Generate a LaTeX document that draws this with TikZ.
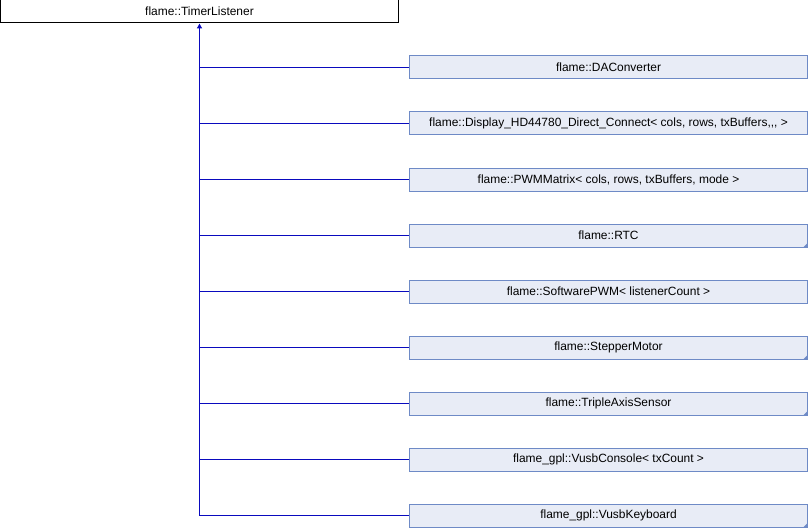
\documentclass[tikz,border=0pt]{standalone}
\usepackage{fontspec}
\setmainfont{Liberation Sans}
\usetikzlibrary{positioning,arrows.meta}

\definecolor{boxfill}{RGB}{232,236,246}
\definecolor{boxline}{RGB}{110,138,198}
\definecolor{linkblue}{RGB}{10,10,190}

\begin{document}
\begin{tikzpicture}%
  [x=1bp, y=1bp,
   node distance=56bp,
   on grid,
   font=\fontsize{12}{14}\selectfont,
   base/.style={draw=black, fill=white, line width=1bp,
                minimum width=398bp, minimum height=23bp, inner sep=0pt},
   derived/.style={base, draw=boxline, fill=boxfill},
   link/.style={draw=linkblue, line width=1.3bp},
   inherit/.style={link, {Triangle[length=5bp,width=5bp]}-}
  ]
\useasboundingbox (0,0) rectangle (808,-528);

\node[base] (listener) at (199.5,-11.5) {flame::TimerListener};

\node[derived] (daconv)  [below right=56bp and 409bp of listener] {flame::DAConverter};
\node[derived] (display) [below=of daconv]   {flame::Display\_HD44780\_Direct\_Connect< cols, rows, txBuffers{,}{,}{,} >};
\node[derived] (pwmmat)  [below=of display]  {flame::PWMMatrix< cols, rows, txBuffers, mode >};
\node[derived] (rtc)     [below=of pwmmat]   {flame::RTC};
\node[derived] (softpwm) [below=of rtc]      {flame::SoftwarePWM< listenerCount >};
\node[derived] (stepper) [below=of softpwm]  {flame::StepperMotor};
\node[derived] (triple)  [below=of stepper]  {flame::TripleAxisSensor};
\node[derived] (console) [below=of triple]   {flame\_gpl::VusbConsole< txCount >};
\node[derived] (keyb)    [below=of console]  {flame\_gpl::VusbKeyboard};

% inheritance links
\draw[inherit] (listener.south) -- (listener.south |- keyb.west);
\foreach \child in {daconv,display,pwmmat,rtc,softpwm,stepper,triple,console,keyb}
  \draw[link] (listener.south |- \child.west) -- (\child.west);

% corner marks
\foreach \child in {rtc,stepper,triple,keyb}
  \fill[boxline] (\child.south east) -- ++(0,5) -- ++(-5,-5) -- cycle;
\end{tikzpicture}
\end{document}
